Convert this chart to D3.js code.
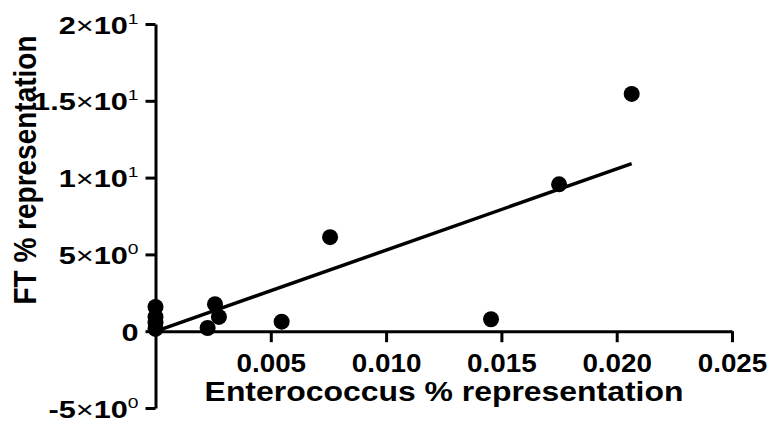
<!DOCTYPE html>
<html>
<head>
<meta charset="utf-8">
<script src="https://cdn.jsdelivr.net/npm/d3@7/dist/d3.min.js"></script>
<style>
  body { margin: 0; background: #fff; }
  text { font-family: "Liberation Sans", Arial, sans-serif; font-weight: bold; fill: #000; }
</style>
</head>
<body>
<svg id="chart"></svg>
<script>
// data
const enteroPct = [0, 0, 0, 0, 0.00226, 0.00258, 0.00275, 0.00547, 0.00757, 0.01455, 0.0175, 0.02065];
const ftPct     = [1.58, 0.93, 0.55, 0.15, 0.21, 1.76, 0.93, 0.62, 6.12, 0.78, 9.56, 15.45];

const xTicks = [0.005, 0.010, 0.015, 0.020, 0.025];
const xTickLabels = ["0.005", "0.010", "0.015", "0.020", "0.025"];
const yTicks = [-5, 0, 5, 10, 15, 20];
const yTickMant = ["-5", "0", "5", "1", "1.5", "2"];
const yTickExp  = ["0", null, "0", "1", "1", "1"];

const xTitle = "Enterococcus % representation";
const yTitle = "FT % representation";

const W = 770, H = 426;
const svg = d3.select("#chart").attr("width", W).attr("height", H);
svg.append("rect").attr("width", W).attr("height", H).attr("fill", "#fff");

const x = d3.scaleLinear().domain([0, 0.025]).range([155.5, 732]);
const y = d3.scaleLinear().domain([-5, 20]).range([408, 24]);

// x axis sits on y = 0
const xAxis = svg.append("g")
  .attr("transform", `translate(0, ${y(0)})`)
  .call(d3.axisBottom(x).tickValues(xTicks).tickSize(11).tickSizeOuter(0).tickFormat(""));
xAxis.attr("font-size", null).attr("font-family", null);
xAxis.select(".domain").attr("stroke-width", 3).attr("stroke", "#000");
xAxis.selectAll(".tick line").attr("stroke-width", 3).attr("stroke", "#000");
xAxis.selectAll(".tick text").remove();
xAxis.selectAll(".tick").each(function(d, i) {
  d3.select(this).append("text")
    .attr("text-anchor", "middle")
    .style("font-size", "26px")
    .attr("transform", "translate(0, 41) scale(1.07, 1)")
    .text(xTickLabels[i]);
});

// y axis sits on x = 0
const yAxis = svg.append("g")
  .attr("transform", `translate(${x(0)}, 0)`)
  .call(d3.axisLeft(y).tickValues(yTicks).tickSize(10).tickSizeOuter(0).tickFormat(""));
yAxis.attr("font-size", null).attr("font-family", null);
yAxis.select(".domain").attr("stroke-width", 3).attr("stroke", "#000");
yAxis.selectAll(".tick line").attr("stroke-width", 3).attr("stroke", "#000");
yAxis.selectAll(".tick text").remove();

const sx = 1.28;
yAxis.selectAll(".tick").each(function(d, i) {
  const t = d3.select(this).append("text")
    .attr("text-anchor", "end")
    .style("font-size", "24px")
    .attr("x", -17 / sx).attr("y", 9)
    .attr("transform", `scale(${sx}, 1)`);
  if (yTickExp[i] == null) {
    t.text(yTickMant[i]);
  } else {
    t.append("tspan").text(yTickMant[i]);
    t.append("tspan").style("font-weight", "normal").text("\u00d7");
    t.append("tspan").text("10");
    t.append("tspan").style("font-size", "15px").style("font-weight", "normal").attr("dy", -10).text(yTickExp[i]);
  }
});

// regression line (least squares on the points)
const mx = d3.mean(enteroPct), my = d3.mean(ftPct);
const sxy = d3.sum(enteroPct, (v, i) => (v - mx) * (ftPct[i] - my));
const sxx = d3.sum(enteroPct, v => (v - mx) * (v - mx));
const slope = sxy / sxx, icpt = my - slope * mx;
const xExt = d3.extent(enteroPct);
svg.append("line")
  .attr("x1", x(xExt[0])).attr("y1", y(icpt + slope * xExt[0]))
  .attr("x2", x(xExt[1])).attr("y2", y(icpt + slope * xExt[1]))
  .attr("stroke", "#000").attr("stroke-width", 3.5);

// points
svg.append("g").selectAll("circle")
  .data(enteroPct)
  .enter().append("circle")
  .attr("cx", d => x(d))
  .attr("cy", (d, i) => y(ftPct[i]))
  .attr("r", 8)
  .attr("fill", "#000");

// titles
svg.append("text")
  .attr("text-anchor", "middle")
  .style("font-size", "28px")
  .attr("transform", `translate(444, 401) scale(1.14, 1)`)
  .text(xTitle);

svg.append("text")
  .attr("text-anchor", "middle")
  .style("font-size", "28px")
  .attr("transform", `translate(36, 170) rotate(-90) scale(1, 1.12)`)
  .text(yTitle);
</script>
</body>
</html>
